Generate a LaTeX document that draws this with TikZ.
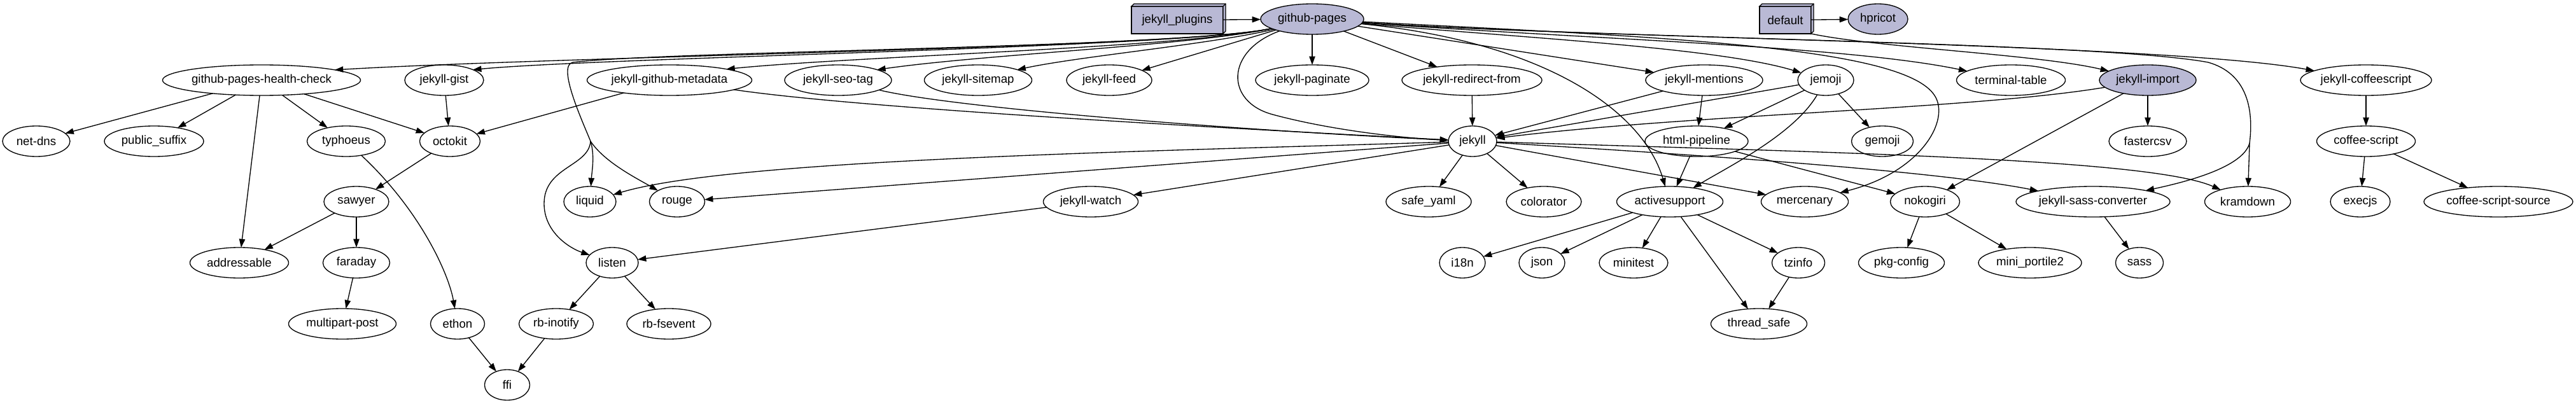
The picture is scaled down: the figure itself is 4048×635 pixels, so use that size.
\documentclass[tikz,border=0pt]{standalone}
\usepackage{fontspec}
\setmainfont{Liberation Sans}
\usepackage{xcolor}
\usepackage{tikz}
\usetikzlibrary{arrows.meta,shapes.geometric}
\definecolor{gemfill}{HTML}{B9B9D5}

\begin{document}
\begin{tikzpicture}[x=0.75pt,y=-0.75pt,>={Triangle[length=10pt,width=7pt]},line width=1pt]
\tikzstyle{gem}=[draw,ellipse,inner sep=0pt,outer sep=0pt,minimum height=36pt,font=\fontsize{14}{16}\selectfont]
\tikzstyle{gemgroup}=[draw,fill=gemfill,rectangle,inner sep=0pt,outer sep=0pt,minimum height=32.25pt,font=\fontsize{14}{16}\selectfont]
\newcommand{\gemnode}[6][]{%
\node[gem,#1,minimum width=#5*0.75pt] (#2) at (#3,#4) {#6};
}
\newcommand{\groupbox}[5]{%
\node[gemgroup,minimum width=#4*0.75pt] (#1) at (#2,#3) {#5};
\draw[fill=gemfill] (#1.north west) -- ++(4,-4) -| ([shift={(4,-4)}]#1.south east) -- (#1.south east) -- (#1.north east) -- cycle;
\draw (#1.north east) -- ++(4,-4);
}
\useasboundingbox (0,0) rectangle (4048,635);
\groupbox{plugins}{1850}{31.5}{144}{jekyll\_plugins}
\gemnode[fill=gemfill]{gp}{2062}{30}{162}{github-pages}
\groupbox{defaultgrp}{2805.5}{31.5}{81}{default}
\gemnode[fill=gemfill]{hpricot}{2951}{30}{94}{hpricot}
\gemnode{healthcheck}{411}{126}{305}{github-pages-health-check}
\gemnode{gist}{698}{126}{124}{jekyll-gist}
\gemnode{metadata}{1052}{126}{259}{jekyll-github-metadata}
\gemnode{seotag}{1317}{126}{168}{jekyll-seo-tag}
\gemnode{sitemap}{1537}{126}{169}{jekyll-sitemap}
\gemnode{feed}{1743}{126}{134}{jekyll-feed}
\gemnode{paginate}{2062}{126}{178}{jekyll-paginate}
\gemnode{redirect}{2313}{126}{220}{jekyll-redirect-from}
\gemnode{mentions}{2678}{126}{184}{jekyll-mentions}
\gemnode{jemoji}{2869}{126}{88}{jemoji}
\gemnode{termtable}{3160}{126}{171}{terminal-table}
\gemnode[fill=gemfill]{import}{3375}{126}{152}{jekyll-import}
\gemnode{jcoffee}{3718}{126}{206}{jekyll-coffeescript}
\gemnode{netdns}{57}{222}{106}{net-dns}
\gemnode{publicsuffix}{242}{222}{156}{public\_suffix}
\gemnode{typhoeus}{544}{222}{123}{typhoeus}
\gemnode{octokit}{707}{222}{95}{octokit}
\gemnode{jekyll}{2314}{222}{76}{jekyll}
\gemnode{htmlpipe}{2666}{222}{162}{html-pipeline}
\gemnode{gemoji}{2958}{222}{97}{gemoji}
\gemnode{fastercsv}{3375}{222}{122}{fastercsv}
\gemnode{coffee}{3718}{222}{155}{coffee-script}
\gemnode{sawyer}{560}{317}{102}{sawyer}
\gemnode{liquid}{927}{317}{82}{liquid}
\gemnode{rouge}{1064}{317}{87}{rouge}
\gemnode{watch}{1714}{317}{149}{jekyll-watch}
\gemnode{safeyaml}{2245}{317}{134}{safe\_yaml}
\gemnode{colorator}{2426}{317}{118}{colorator}
\gemnode{activesupport}{2624}{317}{167}{activesupport}
\gemnode{mercenary}{2836}{317}{137}{mercenary}
\gemnode{nokogiri}{3025}{317}{109}{nokogiri}
\gemnode{sassconv}{3289}{317}{242}{jekyll-sass-converter}
\gemnode{kramdown}{3532}{317}{135}{kramdown}
\gemnode{execjs}{3709}{317}{94}{execjs}
\gemnode{coffeesrc}{3926}{317}{234}{coffee-script-source}
\gemnode{addressable}{376}{413}{155}{addressable}
\gemnode{faraday}{560}{413}{105}{faraday}
\gemnode{listen}{962}{413}{82}{listen}
\gemnode{i18n}{2298}{413}{72}{i18n}
\gemnode{json}{2423}{413}{72}{json}
\gemnode{minitest}{2567}{413}{108}{minitest}
\gemnode{tzinfo}{2826}{413}{83}{tzinfo}
\gemnode{pkgconfig}{2988}{413}{135}{pkg-config}
\gemnode{portile}{3190}{413}{162}{mini\_portile2}
\gemnode{sass}{3362}{413}{75}{sass}
\gemnode{multipart}{538}{509}{169}{multipart-post}
\gemnode{ethon}{719}{509}{85}{ethon}
\gemnode{inotify}{874}{509}{117}{rb-inotify}
\gemnode{fsevent}{1051}{509}{132}{rb-fsevent}
\gemnode{threadsafe}{2764}{509}{151}{thread\_safe}
\gemnode{ffi}{797}{605}{71}{ffi}
\coordinate (gptrunk) at (928,222);
\coordinate (gpsplit) at (3535,225);
\draw[->] (plugins) -- (gp);
\draw[->] (defaultgrp) -- (hpricot);
\draw[->] (defaultgrp.south east) .. controls (2950,75) and (3200,85) .. (import);
\draw[->] (gp.193) .. controls (1860,75) and (900,88) .. (healthcheck.8);
\draw[->] (gp.193) .. controls (1860,75) and (950,90) .. (gist.20);
\draw[->] (gp.193) .. controls (1860,75) and (1350,88) .. (metadata.11);
\draw[->] (gp.193) .. controls (1870,72) and (1550,85) .. (seotag.15);
\draw[->] (gp.195) .. controls (1900,70) and (1700,88) .. (sitemap.15);
\draw[->] (gp) -- (feed);
\draw[->] (gp) -- (paginate);
\draw[->] (gp) -- (redirect);
\draw[->] (gp) -- (mentions);
\draw[->] (gp) .. controls (2400,60) and (2700,75) .. (jemoji);
\draw[->] (gp) .. controls (2500,62) and (2900,72) .. (termtable);
\draw[->] (gp) .. controls (2500,60) and (3400,68) .. (jcoffee);
\draw[->] (gp) .. controls (1925,80) and (1925,160) .. (2000,180) .. controls (2100,207) and (2220,218) .. (jekyll);
\draw[->] (gp) .. controls (2420,65) and (2580,170) .. (activesupport);
\draw[->] (gp) .. controls (2600,58) and (2990,72) .. (3040,150) .. controls (3065,188) and (3020,270) .. (mercenary);
\draw (gp.193) .. controls (1860,75) and (1050,80) .. (900,98) .. controls (875,103) and (915,190) .. (gptrunk);
\draw[->] (gptrunk) .. controls (935,245) and (930,270) .. (liquid);
\draw[->] (gptrunk) .. controls (950,255) and (1000,280) .. (rouge);
\draw[->] (gptrunk) .. controls (925,262) and (855,262) .. (855,320) .. controls (855,365) and (895,390) .. (listen);
\draw (gp) .. controls (2500,60) and (3300,66) .. (3470,98) .. controls (3530,115) and (3542,170) .. (gpsplit);
\draw[->] (gpsplit) -- (kramdown);
\draw[->] (gpsplit) .. controls (3525,262) and (3440,285) .. (sassconv);
\draw[->] (healthcheck) -- (netdns);
\draw[->] (healthcheck) -- (publicsuffix);
\draw[->] (healthcheck) -- (addressable);
\draw[->] (healthcheck) -- (typhoeus);
\draw[->] (healthcheck) -- (octokit);
\draw[->] (gist) -- (octokit);
\draw[->] (metadata) -- (octokit);
\draw[->] (metadata) .. controls (1350,170) and (1900,200) .. (jekyll);
\draw[->] (seotag) .. controls (1500,170) and (1950,205) .. (jekyll);
\draw[->] (redirect) -- (jekyll);
\draw[->] (mentions) -- (jekyll);
\draw[->] (mentions) -- (htmlpipe);
\draw[->] (jemoji) -- (jekyll);
\draw[->] (jemoji) -- (htmlpipe);
\draw[->] (jemoji) -- (gemoji);
\draw[->] (jemoji) .. controls (2820,210) and (2720,260) .. (activesupport);
\draw[->] (import) .. controls (3100,172) and (2650,180) .. (jekyll);
\draw[->] (import) -- (fastercsv);
\draw[->] (import) -- (nokogiri);
\draw[->] (jcoffee) -- (coffee);
\draw[->] (coffee) -- (execjs);
\draw[->] (coffee) -- (coffeesrc);
\draw[->] (typhoeus) .. controls (660,330) and (705,430) .. (ethon);
\draw[->] (octokit) -- (sawyer);
\draw[->] (sawyer) -- (addressable);
\draw[->] (sawyer) -- (faraday);
\draw[->] (faraday) -- (multipart);
\draw[->] (ethon) -- (ffi);
\draw[->] (inotify) -- (ffi);
\draw[->] (listen) -- (inotify);
\draw[->] (listen) -- (fsevent);
\draw[->] (watch) -- (listen);
\draw[->] (jekyll) -- (watch);
\draw[->] (jekyll) -- (rouge);
\draw[->] (jekyll) .. controls (1800,238) and (1150,250) .. (liquid);
\draw[->] (jekyll) -- (safeyaml);
\draw[->] (jekyll) -- (colorator);
\draw[->] (jekyll) -- (mercenary);
\draw[->] (jekyll) .. controls (2700,245) and (3050,270) .. (sassconv);
\draw[->] (jekyll) .. controls (2900,240) and (3380,250) .. (kramdown);
\draw[->] (htmlpipe) -- (activesupport);
\draw[->] (htmlpipe) -- (nokogiri);
\draw[->] (activesupport) -- (i18n);
\draw[->] (activesupport) -- (json);
\draw[->] (activesupport) -- (minitest);
\draw[->] (activesupport) -- (threadsafe);
\draw[->] (activesupport) -- (tzinfo);
\draw[->] (tzinfo) -- (threadsafe);
\draw[->] (nokogiri) -- (pkgconfig);
\draw[->] (nokogiri) -- (portile);
\draw[->] (sassconv) -- (sass);
\end{tikzpicture}
\end{document}
